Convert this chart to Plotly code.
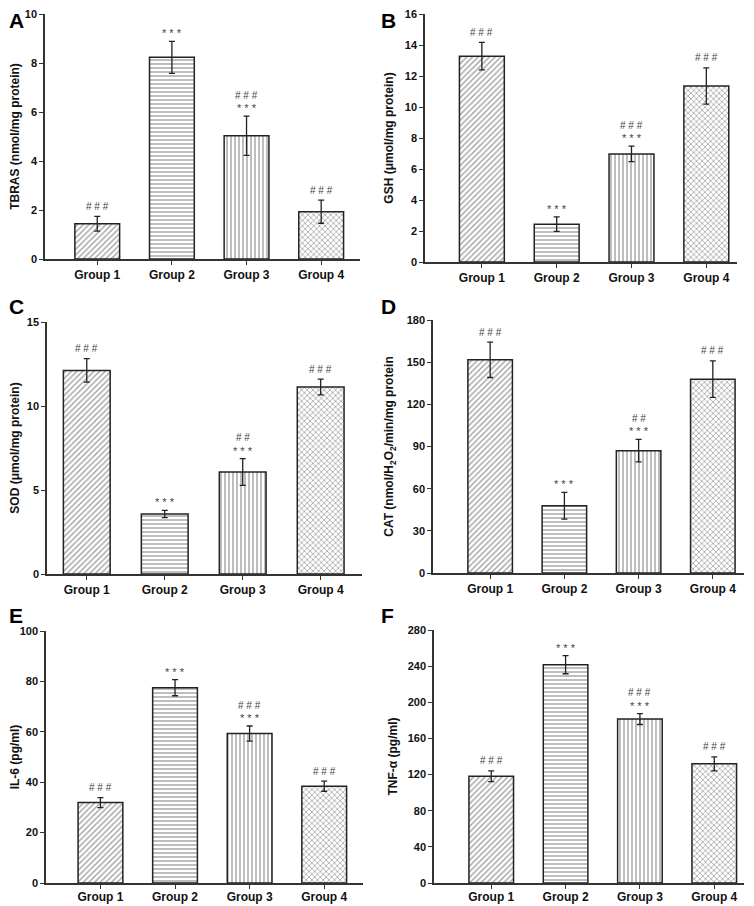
import plotly.graph_objects as go

groups = ["Group 1", "Group 2", "Group 3", "Group 4"]

# means and SD
tbras = [1.44, 8.23, 5.03, 1.93]
tbras_err = [0.30, 0.65, 0.80, 0.47]
gsh = [13.28, 2.44, 6.97, 11.36]
gsh_err = [0.89, 0.47, 0.50, 1.17]
sod = [12.12, 3.57, 6.07, 11.13]
sod_err = [0.70, 0.22, 0.80, 0.47]
cat = [151.7, 47.8, 87.0, 137.9]
cat_err = [12.6, 9.5, 8.0, 13.0]
il6 = [31.9, 77.5, 59.3, 38.4]
il6_err = [2.0, 3.2, 3.0, 2.0]
tnf = [118.2, 241.6, 181.4, 131.9]
tnf_err = [6.0, 10.0, 6.0, 7.7]

# significance marks (vs control / vs group 2)
stars_1 = ["", "***", "***", ""]
hash_ab = ["###", "", "###", "###"]
hash_cd = ["###", "", "##", "###"]

panels = [
    dict(letter="A", y=tbras, e=tbras_err, title="TBRAS (nmol/mg protein)",
         ymax=10, dtick=2, hashes=hash_ab),
    dict(letter="B", y=gsh, e=gsh_err, title="GSH (μmol/mg protein)",
         ymax=16, dtick=2, hashes=hash_ab),
    dict(letter="C", y=sod, e=sod_err, title="SOD (μmol/mg protein)",
         ymax=15, dtick=5, hashes=hash_cd),
    dict(letter="D", y=cat, e=cat_err, title="CAT (nmol/H<sub>2</sub>O<sub>2</sub>/min/mg protein",
         ymax=180, dtick=30, hashes=hash_cd),
    dict(letter="E", y=il6, e=il6_err, title="IL-6 (pg/ml)",
         ymax=100, dtick=20, hashes=hash_ab),
    dict(letter="F", y=tnf, e=tnf_err, title="TNF-α (pg/ml)",
         ymax=280, dtick=40, hashes=hash_ab),
]

# page body has an 8px margin, so the figure is drawn 8px in from the corner
OFF = 8
W, H = 754 - OFF, 906 - OFF


def px(sx):
    return min(max((sx - OFF) / W, 0), 1)


def py(sy):
    return min(max(1 - (sy - OFF) / H, 0), 1)


# screen pixel boxes of the plot areas: left, right, top, bottom
boxes = [
    (45, 360, 14, 259), (425, 737, 14, 262),
    (47, 362, 322, 574), (433, 744, 320, 573),
    (46, 363, 631, 883), (434, 744, 630, 883),
]
xranges = [(-0.70, 3.52), (-0.76, 3.41), (-0.51, 3.53),
           (-0.77, 3.42), (-0.73, 3.52), (-0.77, 3.40)]
standoffs = [5, 9, 6, 10, 5, 7]
letter_pos = [(8, 8), (380, 8), (8, 294), (380, 294), (8, 603), (380, 603)]

shapes = ["/", "-", "|", "x"]
font = "Arial, Liberation Sans, sans-serif"

fig = go.Figure()
annotations = []
layout = {}

for i, p in enumerate(panels):
    n = "" if i == 0 else str(i + 1)
    xa, ya = "x" + n, "y" + n
    fig.add_trace(go.Bar(
        x=groups, y=p["y"], xaxis=xa, yaxis=ya, width=0.6,
        error_y=dict(type="data", array=p["e"], color="#222", thickness=1.3, width=3),
        marker=dict(color="white",
                    line=dict(color="#222", width=1.5),
                    pattern=dict(shape=shapes, size=4, solidity=0.35,
                                 fgcolor="#444", bgcolor="white")),
        showlegend=False,
    ))
    l, r, t, b = boxes[i]
    layout["xaxis" + n] = dict(
        domain=[px(l), px(r)], anchor=ya, range=list(xranges[i]),
        showline=True, linecolor="#333", linewidth=1.5,
        ticks="outside", ticklen=4, tickwidth=1.3, tickcolor="#333",
        ticklabelstandoff=-2 if i >= 4 else 0,
        tickfont=dict(family=font, size=12, color="#111", weight="bold"),
        showgrid=False, zeroline=False, fixedrange=True, automargin=False,
    )
    layout["yaxis" + n] = dict(
        domain=[py(b), py(t)], anchor=xa, range=[0, p["ymax"]],
        dtick=p["dtick"], tick0=0, ticklabeloverflow="allow",
        showline=True, linecolor="#333", linewidth=1.5,
        ticks="outside", ticklen=4, tickwidth=1.3, tickcolor="#333",
        tickfont=dict(family=font, size=11, color="#111", weight="bold"),
        title=dict(text=p["title"], standoff=standoffs[i],
                   font=dict(family=font, size=12, color="#111", weight="bold")),
        showgrid=False, zeroline=False, fixedrange=True, automargin=False,
    )
    lx, ly = letter_pos[i]
    annotations.append(dict(
        text="<b>%s</b>" % p["letter"], xref="paper", yref="paper",
        x=px(lx), y=py(ly), xanchor="left", yanchor="top", showarrow=False,
        borderpad=0, font=dict(family=font, size=21, color="#000"),
    ))
    for g, v, e, s, h in zip(groups, p["y"], p["e"], stars_1, p["hashes"]):
        top = v + e
        if s:
            annotations.append(dict(
                text=" ".join(s), x=g, y=top, xref=xa, yref=ya, showarrow=False,
                yanchor="middle", yshift=8,
                font=dict(family=font, size=11, color="#444"),
            ))
        if h:
            annotations.append(dict(
                text=" ".join(h), x=g, y=top, xref=xa, yref=ya, showarrow=False,
                yanchor="middle", yshift=21 if s else 10,
                font=dict(family=font, size=10, color="#444"),
            ))

fig.update_layout(
    width=W, height=H, autosize=False,
    margin=dict(l=0, r=0, t=0, b=0, pad=0),
    paper_bgcolor="white", plot_bgcolor="white",
    bargap=0.4, annotations=annotations, **layout,
)
fig.write_html("out.html")
